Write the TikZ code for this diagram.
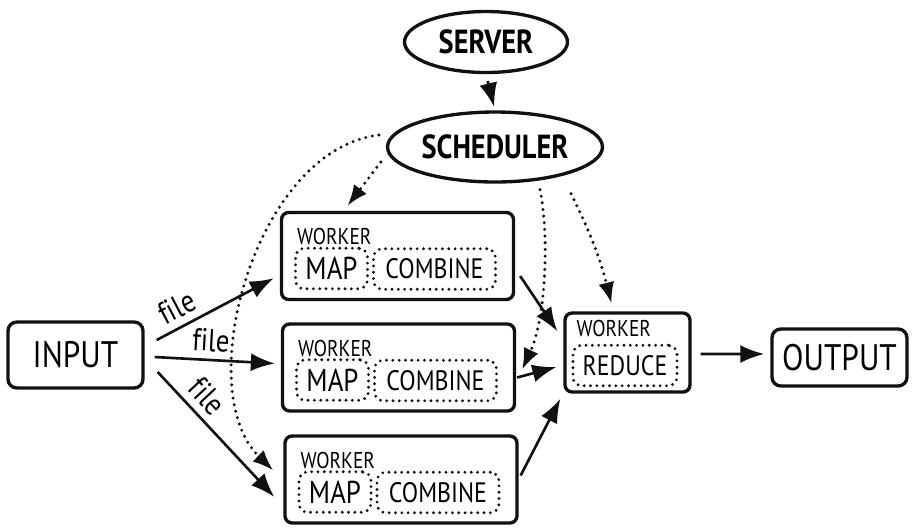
\documentclass[tikz,border=0pt]{standalone}
\usepackage{fontspec}
\setmainfont[FakeStretch=0.85,Ligatures=NoCommon]{PT Sans}
\usetikzlibrary{arrows.meta,calc,shapes.geometric}
\definecolor{ink}{HTML}{111111}
\tikzset{hubnode/.style={ellipse,draw=ink,line width=1.9pt,inner sep=0pt,font=\fontsize{19}{22}\selectfont\bfseries},endbox/.style={draw=ink,rounded corners=5pt,line width=1.9pt,minimum width=2.7cm,font=\fontsize{21}{24}\selectfont},workbox/.style={draw=ink,rounded corners=4pt,line width=1.9pt,minimum width=4.64cm,minimum height=1.74cm},taskbox/.style={draw=ink,rounded corners=5pt,line width=1.8pt,dash pattern=on 0pt off 3.6pt,line cap=round,minimum height=.81cm,inner sep=2pt},headlabel/.style={anchor=west,inner sep=0pt,font=\fontsize{13}{15}\selectfont},flowarrow/.style={draw=ink,line width=1.5pt,-{Latex[length=4.8mm,width=3.6mm]}},ctrlarrow/.style={draw=ink,line width=1.9pt,dash pattern=on 0pt off 3.8pt,line cap=round,-{Latex[length=4.2mm,width=3.2mm]}},filelabel/.style={inner sep=4pt,font=\fontsize{18}{20}\selectfont}}
\begin{document}
\begin{tikzpicture}[x=.02cm,y=-.02cm]
\useasboundingbox (0,0) rectangle (912,529);
\node[hubnode,minimum width=3.26cm,minimum height=1.22cm] (server) at (486,42) {SERVER};
\node[hubnode,minimum width=4.3cm,minimum height=1.4cm] (sched) at (495,147) {SCHEDULER};
\node[endbox,minimum height=1.32cm] (input) at (75.5,355) {INPUT};
\node[endbox,minimum height=1.14cm] (output) at (839.5,357.5) {OUTPUT};
% map/combine workers
\foreach \i/\x/\y in {1/397.5/256,2/398.5/367.5,3/401/479.5}{
  \node[workbox] (w\i) at (\x,\y) {};
  \node[headlabel] (w\i head) at ($(w\i.north west)+(17,26)$) {WORKER};
  \node[taskbox,minimum width=1.44cm,font=\fontsize{18}{20}\selectfont] (w\i map) at ($(w\i.center)+(-66,12.5)$) {MAP};
  \node[taskbox,minimum width=2.44cm,font=\fontsize{16}{18}\selectfont] (w\i comb) at ($(w\i.center)+(37,13)$) {COMBINE};
}
% reduce worker
\node[workbox,minimum width=2.5cm,minimum height=1.58cm] (red) at (627.5,352.5) {};
\node[headlabel] (redhead) at ($(red.north west)+(13,17)$) {WORKER};
\node[taskbox,minimum width=2.08cm,font=\fontsize{16}{18}\selectfont] (redtask) at (625,365.5) {REDUCE};
% flow
\draw[flowarrow,shorten <=4pt,shorten >=2pt] (server.south) -- (sched.north);
\draw[flowarrow] ($(input.east)+(12,-15)$) -- node[filelabel,pos=.25,above,sloped] (f1) {file} ($(w1.south west)+(-6,-23)$);
\draw[flowarrow] ($(input.east)+(10,2)$) -- node[filelabel,pos=.46,above,sloped] (f2) {file} ($(w2.west)+(-6,-4)$);
\draw[flowarrow] ($(input.east)+(13,17)$) -- node[filelabel,pos=.3,above,sloped] (f3) {file} ($(w3.west)+(-9,17.5)$);
\draw[flowarrow] ($(w1.east)+(5,20)$) -- ($(red.north west)+(-6,20)$);
\draw[flowarrow] ($(w2.east)+(1,10)$) -- ($(red.west)+(-7,14.5)$);
\draw[flowarrow] ($(w3.east)+(2,-4)$) -- ($(red.south west)+(-3,5)$);
\draw[flowarrow] ($(red.east)+(9,1.5)$) -- ($(output.west)+(-6,-3.5)$);
% scheduler control
\draw[ctrlarrow] ($(sched.west)+(-5,15)$) -- ($(w1.north)+(-50,-5)$);
\draw[ctrlarrow] ($(sched.west)+(-7,-12)$) .. controls (255,150) and (190,390) .. ($(w3.west)+(-10,-9)$);
\draw[ctrlarrow] ($(sched.south)+(45,6)$) .. controls (550,240) and (545,320) .. ($(w2.east)+(6,2)$);
\draw[ctrlarrow] ($(sched.south)+(76,10)$) to[bend left=6] ($(red.north)+(-16,-8)$);
\end{tikzpicture}
\end{document}
